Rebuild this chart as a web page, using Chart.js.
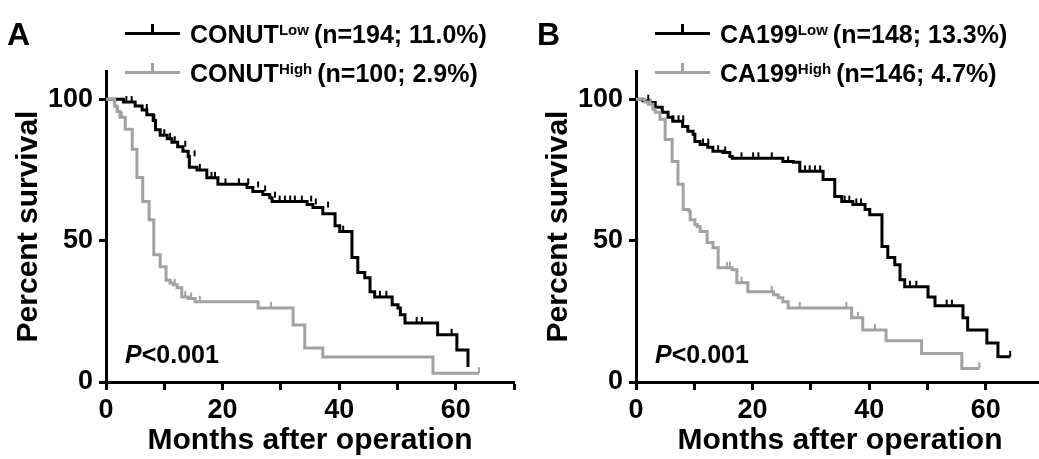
<!DOCTYPE html>
<html>
<head>
<meta charset="utf-8">
<script src="https://cdn.jsdelivr.net/npm/chart.js@4.4.0/dist/chart.umd.min.js"></script>
<style>
html, body { margin:0; padding:0; background:#fff; overflow:hidden; width:1039px; height:459px; }
body { position:relative; font-family:'Liberation Sans', Arial, sans-serif; font-weight:bold; color:#000; }
.panel { position:absolute; top:0; width:530px; height:459px; }
.panel canvas { position:absolute; left:0; top:0; }
.tag { position:absolute; left:7px; top:18px; font-size:32px; line-height:1; }
.sym { position:absolute; left:125px; width:55px; height:3px; }
.sym span { position:absolute; left:26px; top:-8px; width:3px; height:9px; background:inherit; }
.leg { position:absolute; left:190px; font-size:25px; line-height:1; white-space:nowrap; }
.leg small { font-size:15px; position:relative; top:-8px; margin-right:5px; }
.pval { position:absolute; left:125px; top:342px; font-size:25px; line-height:1; }
</style>
</head>
<body>

<div class="panel" style="left:0px">
  <canvas id="chartA" width="530" height="459"></canvas>
  <div class="tag">A</div>
  <div class="sym" style="top:32px;background:#000"><span></span></div>
  <div class="leg" style="top:22px">CONUT<small>Low</small>(n=194; 11.0%)</div>
  <div class="sym" style="top:71px;background:#a0a2a5"><span></span></div>
  <div class="leg" style="top:61px">CONUT<small>High</small>(n=100; 2.9%)</div>
  <div class="pval"><i>P</i>&lt;0.001</div>
</div>

<div class="panel" style="left:530px">
  <canvas id="chartB" width="530" height="459"></canvas>
  <div class="tag">B</div>
  <div class="sym" style="top:32px;background:#000"><span></span></div>
  <div class="leg" style="top:22px">CA199<small>Low</small>(n=148; 13.3%)</div>
  <div class="sym" style="top:71px;background:#a0a2a5"><span></span></div>
  <div class="leg" style="top:61px">CA199<small>High</small>(n=146; 4.7%)</div>
  <div class="pval"><i>P</i>&lt;0.001</div>
</div>

<script>
// axis ticks
const xTicks = [0, 10, 20, 30, 40, 50, 60, 70];
const yTicks = [0, 50, 100];

// panel A - CONUT low
const aLowMonths = [0, 3.0, 5.0, 6.2, 7.0, 8.1, 8.5, 9.3, 10.5, 11.3, 12.3, 13.2, 14.1, 14.3, 15.6, 17.3, 19.2, 24.2, 25.2, 26.9, 28.1, 28.5, 34.5, 35.5, 37.2, 39.3, 40.1, 42.2, 43.2, 44.4, 45.3, 46.1, 49.1, 50.1, 50.5, 51.3, 56.9, 60.2, 62.1];
const aLowSurv   = [100, 99.0, 97.6, 96.2, 94.5, 92.5, 89.2, 87.3, 86.0, 84.8, 83.2, 81.6, 79.8, 76.0, 75.0, 72.2, 69.9, 68.8, 67.4, 66.3, 65.2, 63.8, 62.8, 61.7, 59.5, 55.3, 53.2, 44.0, 38.7, 36.9, 31.9, 30.1, 27.3, 26.2, 23.8, 20.9, 16.7, 11.3, 5.3];
const aLowCensMonths = [3.5, 4.4, 7.0, 8.3, 10.0, 11.0, 11.8, 13.6, 15.2, 16.1, 18.1, 18.7, 20.5, 22.8, 24.4, 26.1, 27.3, 29.0, 29.8, 30.7, 31.6, 32.4, 33.6, 35.2, 36.0, 38.1, 40.7, 47.0, 48.1, 53.3, 54.2, 59.3];
const aLowCensSurv   = [99.0, 99.0, 96.2, 92.5, 87.3, 86.0, 84.8, 83.2, 79.8, 75.0, 72.2, 72.2, 69.9, 69.9, 69.9, 68.8, 67.4, 65.2, 63.8, 63.8, 63.8, 63.8, 63.8, 63.8, 62.8, 61.7, 53.2, 30.1, 30.1, 20.9, 20.9, 16.7];

// panel A - CONUT high
const aHighMonths = [0, 1.5, 1.9, 2.4, 3.3, 4.5, 5.3, 6.3, 7.4, 8.2, 9.3, 10.3, 11.0, 11.5, 12.2, 13.0, 14.1, 15.3, 26.1, 32.1, 34.1, 37.2, 56.1, 64.0];
const aHighSurv   = [100, 97.5, 95.7, 93.6, 89.4, 82.3, 72.3, 63.8, 57.4, 45.0, 40.8, 36.0, 35.0, 34.4, 33.3, 30.1, 29.5, 28.4, 26.2, 20.2, 12.0, 8.8, 3.1, 3.1];
const aHighCensMonths = [2.0, 2.7, 11.8, 13.6, 14.6, 16.1, 28.3, 64.0];
const aHighCensSurv   = [95.7, 93.6, 34.4, 30.1, 29.5, 28.4, 26.2, 3.1];

// panel B - CA199 low
const bLowMonths = [0, 1.2, 2.4, 3.3, 4.5, 5.5, 6.3, 8.0, 8.9, 9.8, 10.1, 11.0, 12.3, 13.2, 14.9, 16.1, 16.5, 25.2, 27.0, 28.1, 32.1, 34.1, 35.3, 37.2, 39.3, 40.1, 42.2, 43.2, 44.4, 45.3, 46.1, 50.1, 51.3, 56.1, 56.9, 60.2, 62.1, 64.2];
const bLowSurv   = [100, 99.5, 98.9, 97.2, 95.4, 93.6, 92.2, 90.4, 88.7, 87.6, 85.1, 84.0, 83.0, 81.6, 81.2, 79.8, 79.1, 78.0, 77.7, 74.5, 71.6, 65.6, 63.8, 62.8, 61.0, 59.2, 47.9, 44.0, 41.5, 36.2, 33.7, 30.1, 27.0, 22.7, 18.4, 13.8, 8.9, 8.9];
const bLowCensMonths = [2.1, 6.4, 7.3, 8.1, 11.5, 12.4, 14.1, 15.3, 18.1, 20.1, 21.0, 23.3, 26.1, 29.0, 29.8, 30.7, 31.6, 35.8, 36.6, 37.8, 38.6, 47.0, 48.1, 53.3, 54.2, 64.2];
const bLowCensSurv   = [99.5, 92.2, 92.2, 92.2, 84.0, 84.0, 81.6, 81.2, 79.1, 79.1, 79.1, 79.1, 77.7, 74.5, 74.5, 74.5, 74.5, 63.8, 63.8, 62.8, 62.8, 33.7, 33.7, 27.0, 27.0, 8.9];

// panel B - CA199 high
const bHighMonths = [0, 1.5, 2.1, 2.9, 3.3, 4.1, 5.0, 6.2, 7.2, 8.1, 9.1, 9.3, 10.1, 10.5, 11.0, 12.2, 13.2, 14.1, 16.5, 17.3, 19.2, 23.6, 24.4, 25.2, 26.1, 37.0, 38.9, 42.9, 49.0, 55.9, 58.9];
const bHighSurv   = [100, 99.0, 98.2, 96.5, 95.4, 92.9, 85.8, 78.0, 69.9, 61.0, 60.3, 57.4, 55.7, 55.0, 53.2, 49.3, 47.5, 40.4, 39.7, 35.1, 31.9, 30.9, 29.8, 28.4, 26.2, 22.7, 18.4, 14.6, 10.1, 4.8, 4.8];
const bHighCensMonths = [2.5, 15.6, 16.1, 18.1, 23.3, 28.1, 36.1, 38.1, 41.0, 58.9];
const bHighCensSurv   = [98.2, 40.4, 40.4, 35.1, 31.9, 26.2, 26.2, 22.7, 18.4, 4.8];

const black = '#000000';
const grey = '#a0a2a5';
const fontFamily = "'Liberation Sans', Arial, sans-serif";

function toPoints(months, surv){
    return months.map((m, i) => ({x: m, y: surv[i]}));
}

function censorSet(months, surv, color){
    return {
        type: 'scatter',
        data: toPoints(months, surv),
        showLine: false,
        pointStyle: 'dash',
        rotation: -90,
        pointRadius: 6,
        pointHoverRadius: 6,
        borderColor: color,
        borderWidth: 2,
        backgroundColor: color
    };
}

function stepSet(months, surv, color){
    // horizontal first, then the drop at the event time
    return {
        type: 'line',
        data: toPoints(months, surv),
        stepped: 'before',
        borderColor: color,
        borderWidth: 3,
        pointRadius: 0,
        fill: false
    };
}

function SurvivalGraph(canvasID, lowM, lowS, lowCM, lowCS, highM, highS, highCM, highCS){

    const ctx = document.getElementById(canvasID).getContext('2d');
    const chart = new Chart(ctx, {
        type: 'line',
        data: {
            datasets: [
                stepSet(highM, highS, grey),
                censorSet(highCM, highCS, grey),
                stepSet(lowM, lowS, black),
                censorSet(lowCM, lowCS, black)
            ]
        },
        options: {
            responsive: false,
            animation: false,
            layout: { padding: { top: 71, right: 16, left: 0, bottom: 0 } },
            plugins: { legend: { display: false }, tooltip: { enabled: false } },
            scales: {
                x: {
                    type: 'linear', min: 0, max: 70,
                    afterBuildTicks: (s) => { s.ticks = xTicks.map(v => ({value: v})); },
                    afterFit: (s) => { s.height = 77; },
                    border: { display: true, color: black, width: 3 },
                    grid: { drawOnChartArea: false, drawTicks: true, tickLength: 8, tickWidth: 3, tickColor: black },
                    ticks: {
                        color: black, padding: 4, maxRotation: 0, autoSkip: false,
                        font: { family: fontFamily, size: 27, weight: 'bold' },
                        callback: (v) => (v % 20 === 0 ? v : '')
                    },
                    title: {
                        display: true, text: 'Months after operation', color: black,
                        font: { family: fontFamily, size: 30, weight: 'bold' },
                        padding: { top: 0, bottom: 0 }
                    }
                },
                y: {
                    type: 'linear', min: 0, max: 110,
                    afterBuildTicks: (s) => { s.ticks = yTicks.map(v => ({value: v})); },
                    afterFit: (s) => { s.width = 106; },
                    border: { display: true, color: black, width: 3 },
                    grid: { drawOnChartArea: false, drawTicks: true, tickLength: 7, tickWidth: 3, tickColor: black },
                    ticks: {
                        color: black, padding: 6,
                        font: { family: fontFamily, size: 27, weight: 'bold' }
                    },
                    title: {
                        display: true, text: 'Percent survival', color: black,
                        font: { family: fontFamily, size: 30, weight: 'bold' },
                        padding: { top: 11, bottom: 0 }
                    }
                }
            }
        }
    });
}

SurvivalGraph('chartA', aLowMonths, aLowSurv, aLowCensMonths, aLowCensSurv, aHighMonths, aHighSurv, aHighCensMonths, aHighCensSurv);
SurvivalGraph('chartB', bLowMonths, bLowSurv, bLowCensMonths, bLowCensSurv, bHighMonths, bHighSurv, bHighCensMonths, bHighCensSurv);
</script>
</body>
</html>
